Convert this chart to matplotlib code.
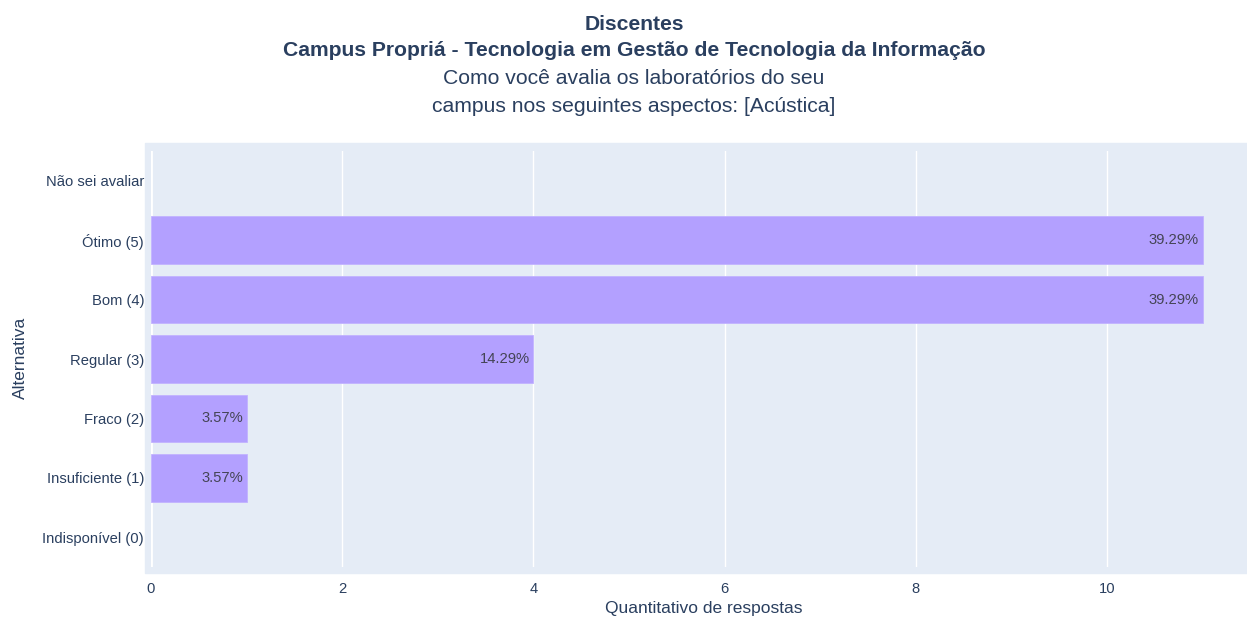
import matplotlib
matplotlib.use("Agg")
import matplotlib.pyplot as plt
from matplotlib.patches import Rectangle

plt.rcParams['font.family'] = ['Liberation Sans', 'DejaVu Sans']

# data
categorias = ['Indisponível (0)', 'Insuficiente (1)', 'Fraco (2)', 'Regular (3)',
              'Bom (4)', 'Ótimo (5)', 'Não sei avaliar']
respostas = [0, 1, 1, 4, 11, 11, 0]
rotulos = ['', '3.57%', '3.57%', '14.29%', '39.29%', '39.29%', '']
xticks = [0, 2, 4, 6, 8, 10]

W, H = 1247, 620
txt = '#2a3f5f'
bg = '#e5ecf6'

fig = plt.figure(figsize=(W / 100, H / 100), dpi=100)

# plot background (a bit larger than the data area, like plotly)
fig.patches.append(Rectangle((145 / W, 1 - 573 / H), (W - 145) / W, 430 / H,
                             transform=fig.transFigure, color=bg, zorder=-10))

ax = fig.add_axes([151 / W, 1 - 567 / H, (W - 151) / W, 416 / H])
ax.set_facecolor('none')
for s in ax.spines.values():
    s.set_visible(False)

y = list(range(len(categorias)))
bars = ax.barh(y, respostas, height=0.8, color='#b3a0ff', edgecolor='#c2b3ff',
               linewidth=0.6, zorder=3)
for b, lab in zip(bars, rotulos):
    if b.get_width() == 0:
        b.set_visible(False)
    if lab:
        ax.text(b.get_width() - 0.04, b.get_y() + b.get_height() / 2, lab,
                ha='right', va='center', fontsize=10.6, color='#444455', zorder=4)

ax.set_xlim(0, (W - 151) / 95.6)
ax.set_ylim(-0.5, len(categorias) - 0.5)
ax.set_xticks(xticks)
ax.set_yticks(y)
ax.set_yticklabels(categorias)
ax.grid(axis='x', color='white', linewidth=1, zorder=1)
ax.axvline(0, color='white', linewidth=2, zorder=2)
ax.tick_params(axis='both', length=0, labelsize=10.6, colors=txt)
ax.tick_params(axis='x', pad=11)
ax.tick_params(axis='y', pad=5)

fig.text(704 / W, 1 - 609 / H, 'Quantitativo de respostas', ha='center',
         va='center', fontsize=12.5, color=txt)
fig.text(20 / W, 1 - 358 / H, 'Alternativa', ha='center', va='center',
         rotation=90, fontsize=12.5, color=txt)

cx = 634 / W
fig.text(cx, 1 - 24 / H, 'Discentes', ha='center', va='center',
         fontsize=15.2, fontweight='bold', color=txt)
fig.text(cx, 1 - 51 / H,
         'Campus Propriá - Tecnologia em Gestão de Tecnologia da Informação',
         ha='center', va='center', fontsize=15.2, fontweight='bold', color=txt)
fig.text(cx, 1 - 79 / H, 'Como você avalia os laboratórios do seu',
         ha='center', va='center', fontsize=15.2, color=txt)
fig.text(cx, 1 - 107 / H, 'campus nos seguintes aspectos: [Acústica]',
         ha='center', va='center', fontsize=15.2, color=txt)

fig.savefig('out.png', dpi=100)
